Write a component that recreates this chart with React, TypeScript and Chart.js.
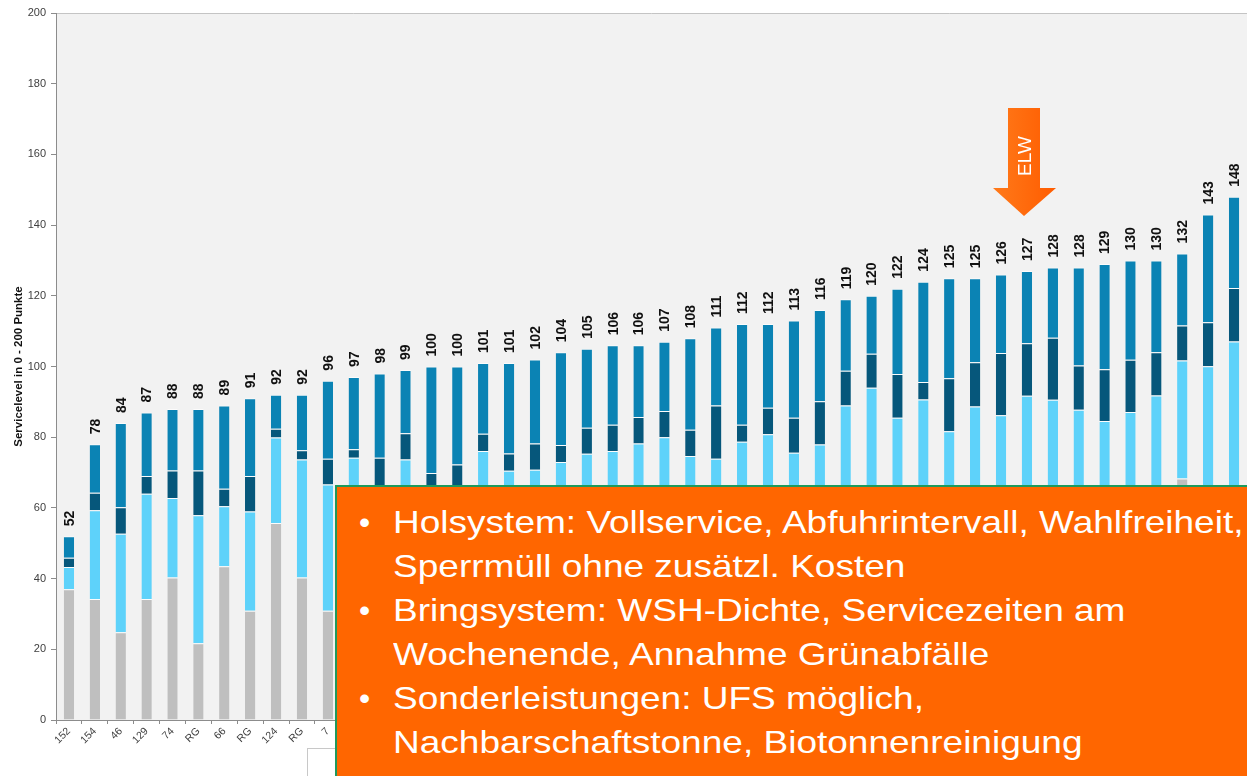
import React, { useEffect, useRef } from "react";
import { Chart, registerables } from "chart.js";

Chart.register(...registerables);

// Categories (x-axis labels); labels after "7" are hidden behind the overlay box in the reference
const categories = [
  "152", "154", "46", "129", "74", "RG", "66", "RG", "124", "RG", "7",
  "RG", "31", "RG", "58", "RG", "112", "RG", "19", "RG", "87", "RG",
  "40", "RG", "95", "RG", "133", "RG", "12", "RG", "68", "RG", "101",
  "RG", "27", "RG", "ELW", "RG", "54", "RG", "140", "RG", "83", "RG",
  "RG", "RG",
];

// Stack segments (service level points)
const greySeg = [
  37, 34.2, 24.8, 34.2, 40.3, 21.7, 43.5, 30.9, 55.7, 40.3, 30.9,
  36, 40, 38, 35, 42, 40, 44, 38, 42, 40, 45,
  42, 46, 40, 38, 44, 46, 42, 44, 48, 50, 46,
  50, 44, 48, 46, 50, 48, 46, 44, 48, 50, 68.3,
  52, 55,
];
const lightSeg = [
  6.3, 25.1, 27.9, 29.8, 22.5, 36.2, 17.0, 28.1, 24.2, 33.4, 35.7,
  38.2, 20, 35.7, 23, 20, 36.1, 26.5, 32.8, 31, 35.3, 31.1,
  36.2, 34, 34.7, 35.9, 34.7, 34.8, 33.6, 33.9, 41, 44, 39.5,
  40.7, 37.7, 40.7, 40.2, 41.7, 42.6, 41.8, 40.6, 39.1, 41.8, 33.4,
  48.1, 52.1,
];
const darkSeg = [
  2.6, 5.0, 7.5, 5.0, 7.8, 12.7, 4.9, 10.0, 2.5, 2.6, 7.3,
  2.4, 14.2, 7.4, 11.9, 10.3, 4.9, 4.9, 7.4, 4.8, 7.4, 7.4,
  7.5, 7.4, 7.4, 15.1, 4.8, 7.5, 9.9, 12.3, 9.8, 9.6, 12.4,
  4.9, 15, 12.5, 17.6, 14.9, 17.5, 12.5, 14.6, 14.8, 12.2, 9.9,
  12.4, 15.1,
];
const blueSeg = [
  6.1, 13.7, 23.8, 18.0, 17.4, 17.4, 23.6, 22.0, 9.6, 15.7, 22.1,
  20.4, 23.8, 17.9, 30.1, 27.7, 20, 25.6, 23.8, 26.2, 22.3, 22.5,
  20.3, 19.6, 25.9, 22, 28.5, 23.7, 27.5, 25.8, 20.2, 16.4, 24.1,
  28.4, 28.3, 23.8, 22.2, 20.4, 19.9, 27.7, 29.8, 28.1, 26, 20.4,
  30.5, 25.8,
];

// Total labels printed above the bars
const totalLabels = [
  52, 78, 84, 87, 88, 88, 89, 91, 92, 92, 96,
  97, 98, 99, 100, 100, 101, 101, 102, 104, 105, 106,
  106, 107, 108, 111, 112, 112, 113, 116, 119, 120, 122,
  124, 125, 125, 126, 127, 128, 128, 129, 130, 130, 132,
  143, 148,
];

const yTicks = [0, 20, 40, 60, 80, 100, 120, 140, 160, 180, 200];

const bulletLines = [
  { bullet: true, text: "Holsystem: Vollservice, Abfuhrintervall, Wahlfreiheit," },
  { bullet: false, text: "Sperrmüll ohne zusätzl. Kosten" },
  { bullet: true, text: "Bringsystem: WSH-Dichte, Servicezeiten am" },
  { bullet: false, text: "Wochenende, Annahme Grünabfälle" },
  { bullet: true, text: "Sonderleistungen: UFS möglich," },
  { bullet: false, text: "Nachbarschaftstonne, Biotonnenreinigung" },
];

const FONT = "'Liberation Sans', Arial, sans-serif";

const bgPlugin = {
  id: "plotBg",
  beforeDraw(chart: any) {
    const { ctx, chartArea } = chart;
    const { left, top, right, bottom } = chartArea;
    ctx.save();
    ctx.fillStyle = "#f2f2f2";
    ctx.fillRect(left, top, right - left, bottom - top);
    ctx.strokeStyle = "#c4c4c4";
    ctx.lineWidth = 1;
    ctx.beginPath();
    ctx.moveTo(left, top + 0.5);
    ctx.lineTo(right, top + 0.5);
    ctx.stroke();
    ctx.restore();
  },
};

const totalsPlugin = {
  id: "totals",
  afterDatasetsDraw(chart: any) {
    const { ctx } = chart;
    const meta = chart.getDatasetMeta(chart.data.datasets.length - 1);
    ctx.save();
    ctx.fillStyle = "#111";
    ctx.font = `bold 14px ${FONT}`;
    ctx.textAlign = "left";
    ctx.textBaseline = "middle";
    meta.data.forEach((bar: any, i: number) => {
      ctx.save();
      ctx.translate(bar.x + 1, bar.y - 10);
      ctx.rotate(-Math.PI / 2);
      ctx.fillText(String(totalLabels[i]), 0, 0);
      ctx.restore();
    });
    ctx.restore();
  },
};

function ChartCanvas() {
  const ref = useRef<HTMLCanvasElement | null>(null);
  useEffect(() => {
    if (!ref.current) return;
    const mk = (label: string, data: number[], color: string) => ({
      label,
      data,
      backgroundColor: color,
      borderColor: "rgba(255,255,255,0.75)",
      borderWidth: { top: 1, left: 0, right: 0, bottom: 0 },
      borderSkipped: false,
      barPercentage: 0.4,
      categoryPercentage: 1,
    });
    const chart = new Chart(ref.current, {
      type: "bar",
      data: {
        labels: categories,
        datasets: [
          mk("Grundleistung", greySeg, "#bfbfbf"),
          mk("Holsystem", lightSeg, "#5ed2fa"),
          mk("Bringsystem", darkSeg, "#06577b"),
          mk("Sonderleistungen", blueSeg, "#0b83b4"),
        ],
      },
      options: {
        animation: false,
        responsive: false,
        maintainAspectRatio: false,
        layout: { padding: { top: 13, right: 0, bottom: 0, left: 0 } },
        plugins: {
          legend: { display: false },
          tooltip: { enabled: false },
        },
        scales: {
          x: {
            stacked: true,
            offset: true,
            grid: {
              display: true,
              drawOnChartArea: false,
              tickLength: 4,
              color: "#8c8c8c",
              offset: true,
            },
            border: { color: "#8c8c8c" },
            ticks: {
              autoSkip: false,
              maxRotation: 45,
              minRotation: 45,
              padding: 1,
              color: "#404040",
              font: { family: FONT, size: 10.5 },
            },
            afterFit: (scale: any) => {
              scale.height = 56;
            },
          },
          y: {
            stacked: true,
            min: 0,
            max: 200,
            afterBuildTicks: (scale: any) => {
              scale.ticks = yTicks.map((v) => ({ value: v }));
            },
            grid: {
              display: true,
              drawOnChartArea: false,
              tickLength: 5,
              color: "#8c8c8c",
            },
            border: { color: "#8c8c8c" },
            ticks: {
              padding: 5,
              color: "#404040",
              font: { family: FONT, size: 11 },
            },
            title: {
              display: true,
              text: "Servicelevel in 0 - 200 Punkte",
              color: "#111",
              font: { family: FONT, size: 11.5, weight: "bold" },
              padding: { top: 12, bottom: 0 },
            },
            afterFit: (scale: any) => {
              scale.width = 56;
            },
          },
        },
      },
      plugins: [bgPlugin, totalsPlugin],
    } as any);
    return () => chart.destroy();
  }, []);
  return <canvas ref={ref} width={1247} height={776} style={{ display: "block" }} />;
}

export default function App() {
  return (
    <div
      style={{
        position: "fixed",
        left: 0,
        top: 0,
        width: 1247,
        height: 776,
        background: "#ffffff",
        overflow: "hidden",
      }}
    >
      <ChartCanvas />
      {/* partially hidden legend frame */}
      <div
        style={{
          position: "absolute",
          left: 307,
          top: 748,
          width: 60,
          height: 40,
          background: "#ffffff",
          border: "1px solid #c8c8c8",
        }}
      />
      {/* ELW arrow */}
      <svg
        style={{ position: "absolute", left: 990, top: 106 }}
        width={70}
        height={114}
        viewBox="0 0 70 114"
      >
        <defs>
          <linearGradient id="arrowGrad" x1="0" y1="0" x2="1" y2="0">
            <stop offset="0" stopColor="#ff7a1a" />
            <stop offset="1" stopColor="#ff5c00" />
          </linearGradient>
        </defs>
        <polygon
          points="18,2 50,2 50,82 66,82 34,110 3,82 18,82"
          fill="url(#arrowGrad)"
        />
        <text
          x={0}
          y={0}
          transform="translate(41,50) rotate(-90)"
          textAnchor="middle"
          fill="#ffffff"
          style={{ font: `19px ${FONT}` }}
        >
          ELW
        </text>
      </svg>
      {/* orange text box */}
      <div
        style={{
          position: "absolute",
          left: 335,
          top: 485,
          width: 920,
          height: 300,
          background: "#ff6600",
          borderTop: "2px solid #1e9a5c",
          borderLeft: "2px solid #1e9a5c",
          boxSizing: "border-box",
          paddingTop: 13,
          color: "#ffffff",
          fontFamily: FONT,
          fontSize: 32,
          whiteSpace: "nowrap",
          overflow: "hidden",
        }}
      >
        {bulletLines.map((l, i) => (
          <div key={i} style={{ position: "relative", height: 44, lineHeight: "44px", paddingLeft: 56 }}>
            {l.bullet && (
              <span style={{ position: "absolute", left: 22, top: 0 }}>•</span>
            )}
            <span
              style={{
                display: "inline-block",
                transform: "scaleX(1.157)",
                transformOrigin: "left center",
              }}
            >
              {l.text}
            </span>
          </div>
        ))}
      </div>
    </div>
  );
}
